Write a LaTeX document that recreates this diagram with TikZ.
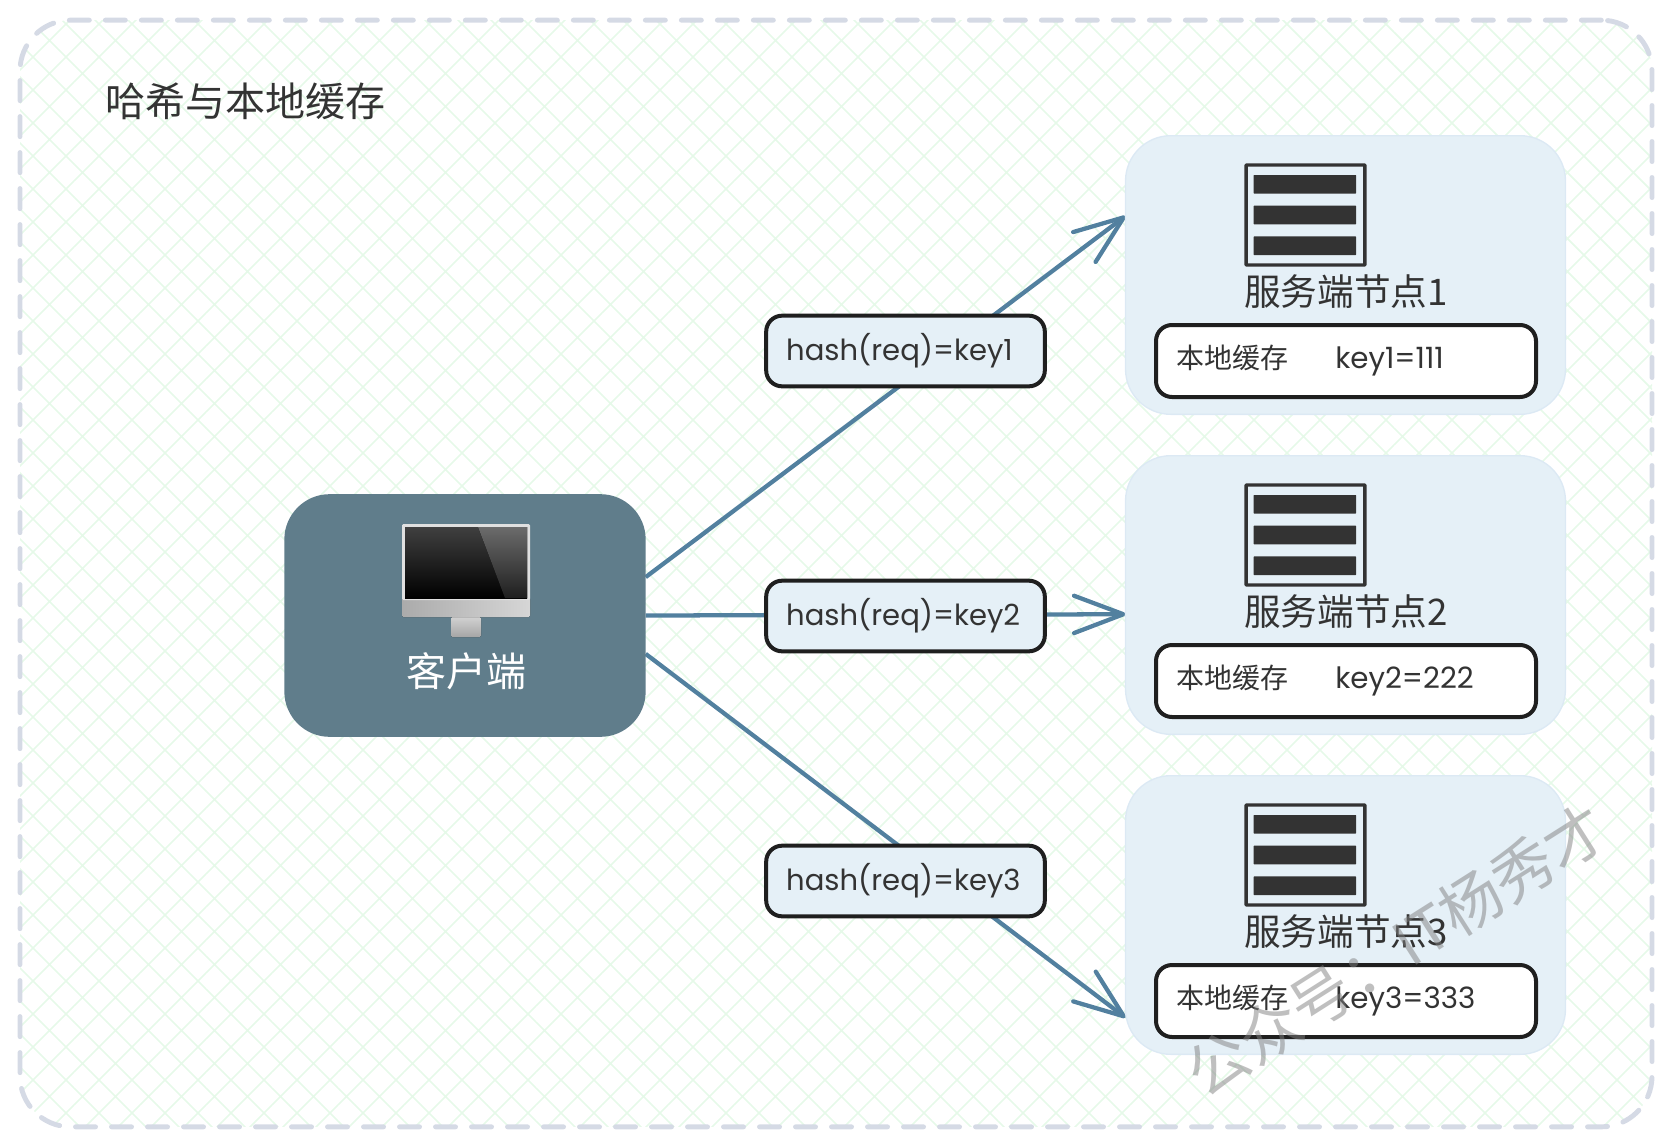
\documentclass[tikz,border=0pt]{standalone}
\usepackage{fontspec}
\setmainfont{Noto Sans CJK SC}
\newfontfamily\handfont{Poppins}
\usepackage{tikz}
\usetikzlibrary{positioning,backgrounds,arrows.meta,patterns.meta}

\definecolor{framecol}{HTML}{D5DAE5}
\definecolor{hatchcol}{HTML}{E6F9E9}
\definecolor{clientcol}{HTML}{607D8B}
\definecolor{servercol}{HTML}{E5F0F7}
\definecolor{serveredge}{HTML}{DCE9F4}
\definecolor{linkcol}{HTML}{52809F}
\definecolor{inkcol}{HTML}{333333}

\tikzset{
    framebox/.style={draw=framecol, line width=3.7pt, rounded corners=38pt, dash pattern=on 15pt off 12pt,
        line cap=round, minimum width=1224pt, minimum height=830pt, inner sep=0, outer sep=0},
    hatchbox/.style={rounded corners=38pt, minimum width=1224pt, minimum height=830pt, inner sep=0, outer sep=0,
        pattern={Hatch[angle=45,distance=17.5pt,line width=1.2pt]}, pattern color=hatchcol},
    serverbox/.style={draw=serveredge, fill=servercol, line width=1pt, rounded corners=34pt,
        minimum width=330pt, minimum height=209pt, inner sep=0, outer sep=0},
    rackicon/.style={draw=inkcol, line width=2.6pt, rounded corners=0.5pt, minimum width=89pt, minimum height=75pt,
        inner sep=0, outer sep=0, path picture={
            \fill[inkcol] ([xshift=-39pt,yshift=16pt]path picture bounding box.center) rectangle ++(77pt,14pt);
            \fill[inkcol] ([xshift=-39pt,yshift=-7pt]path picture bounding box.center) rectangle ++(77pt,14pt);
            \fill[inkcol] ([xshift=-39pt,yshift=-30pt]path picture bounding box.center) rectangle ++(77pt,14pt);
        }},
    cachebox/.style={draw=black!88, fill=white, line width=3pt, rounded corners=12pt,
        minimum width=285pt, minimum height=54pt, inner sep=0},
    hashbox/.style={draw=black!88, fill=servercol, line width=3pt, rounded corners=12pt,
        minimum width=209pt, minimum height=53pt, inner sep=0, text width=179pt, align=left,
        font=\handfont\fontsize{21.8}{25}\selectfont, text=inkcol},
    link/.style={draw=linkcol, line width=3.2pt, -{Straight Barb[length=37pt,width=28pt,round]}},
    servertext/.style={text=inkcol, font=\fontsize{27.5}{32}\selectfont, inner sep=0},
    cachetext/.style={text=inkcol, font=\fontsize{21}{24}\selectfont, inner sep=0, anchor=west},
    keytext/.style={text=inkcol, font=\handfont\fontsize{22}{24}\selectfont, inner sep=0, anchor=west},
}

\begin{document}
\begin{tikzpicture}[x=0.75pt, y=-0.75pt]
    \useasboundingbox (0,0) rectangle (1671,1146);

    \node (frame) [framebox] at (836,573.5) {};
    \node (title) [text=inkcol, font=\fontsize{30}{35}\selectfont, inner sep=0] at (245.5,101.5) {哈希与本地缓存};

    % client
    \node (client) [fill=clientcol, rounded corners=34pt, minimum width=271pt, minimum height=182pt, inner sep=0, outer sep=0] at (465,615.5) {};
    \node (clientname) [text=white, font=\fontsize{30}{35}\selectfont, inner sep=0] at (466,671) {客户端};

    % monitor
    \fill[rounded corners=1pt, bottom color=black!35, top color=black!18] (451,617) rectangle (481,637);
    \fill[rounded corners=1pt, left color=black!33, right color=black!16] (402,598) rectangle (530,617);
    \fill[rounded corners=1pt, fill=black!12] (402,524) rectangle (530,600);
    \fill[top color=black!75, bottom color=black] (405,527) rectangle (527,598);
    \fill[top color=black!58, bottom color=black!88] (478,527) -- (527,527) -- (527,598) -- (505,598) -- cycle;

    % servers
    \node (server1) [serverbox] at (1345.5,275) {};
    \node (server2) [serverbox, below=31pt of server1] {};
    \node (server3) [serverbox, below=31pt of server2] {};

    \node (rack1) [rackicon] at (1305.5,215) {};
    \node (rack2) [rackicon] at (1305.5,535) {};
    \node (rack3) [rackicon] at (1305.5,855) {};

    \node (name1) [servertext] at (1346,292) {服务端节点1};
    \node (name2) [servertext] at (1346,612) {服务端节点2};
    \node (name3) [servertext] at (1346,932) {服务端节点3};

    \node (cache1) [cachebox] at (1346,361) {};
    \node (cache2) [cachebox] at (1346,681) {};
    \node (cache3) [cachebox] at (1346,1001) {};

    \node (local1) [cachetext] at (1176,358) {本地缓存};
    \node (local2) [cachetext] at (1176,678) {本地缓存};
    \node (local3) [cachetext] at (1176,998) {本地缓存};

    \node (value1) [keytext] at (1335,361) {key1=111};
    \node (value2) [keytext] at (1335,681) {key2=222};
    \node (value3) [keytext] at (1335,1001) {key3=333};

    % hash labels
    \node (hash1) [hashbox] at (905.5,351) {hash(req)=key1};
    \node (hash2) [hashbox] at (905.5,616) {hash(req)=key2};
    \node (hash3) [hashbox] at (905.5,881) {hash(req)=key3};

    \begin{scope}[on background layer]
        \node (hatch) [hatchbox] at (836,573.5) {};
        \draw[link] (client.12.6) -- (server1.165.3);
        \draw[link] (client.east) -- (server2.185.2);
        \draw[link] (client.-12.6) -- (server3.205.3);
    \end{scope}

    \node (mark) [text=gray, opacity=0.5, rotate=32.4, font=\fontsize{46}{52}\selectfont, inner sep=0] at (1396,950) {公众号：IT杨秀才};
\end{tikzpicture}
\end{document}
